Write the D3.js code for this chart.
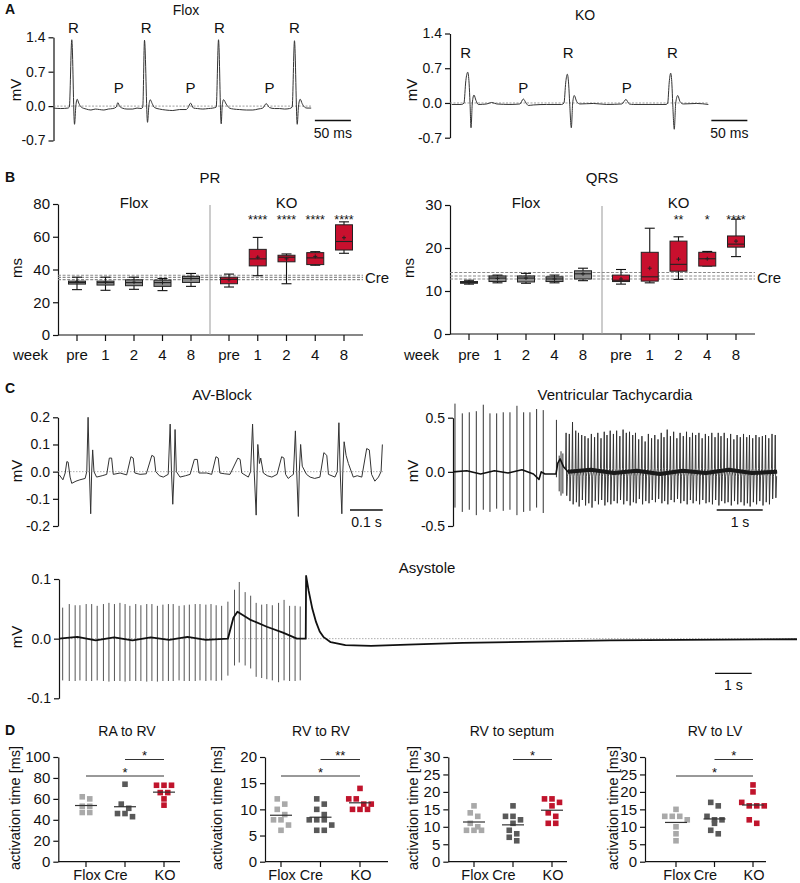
<!DOCTYPE html>
<html lang="en">
<head>
<meta charset="utf-8">
<title>ECG phenotype figure</title>
<script src="https://d3js.org/d3.v7.min.js"></script>
<style>
body { margin: 0; background: #fff; }
</style>
</head>
<body>
<script>
// ---------- DATA ----------
// A: surface ECG traces, [time ms, mV]
var aTicks = [-0.7, 0, 0.7, 1.4];
var floxEcg = [[0,-0.04],[10,-0.05],[20,-0.04],[22,-0.02],[25.4,1.35],[29.2,-0.37],[31,0],[32.9,0.14],[35.1,0.06],[38.5,-0.02],[45.4,-0.06],[52,-0.08],[58,-0.06],[63.9,-0.07],[70,-0.08],[76,-0.06],[82.4,-0.05],[87.1,-0.02],[89.3,0.07],[91.7,0.0],[95.4,-0.04],[102,-0.06],[110.1,-0.06],[116,-0.04],[121.8,-0.05],[124,-0.02],[126.4,1.34],[130.6,-0.33],[132.4,0],[134.3,0.13],[137.1,0.05],[140.3,-0.03],[147.2,-0.06],[156,-0.08],[165.7,-0.09],[175,-0.07],[184.3,-0.07],[187,-0.03],[190.3,0.06],[194.4,-0.04],[200,-0.05],[207.4,-0.06],[215,-0.05],[221.3,-0.04],[226,-0.02],[229.2,1.35],[232.9,-0.36],[234.3,0],[236.1,0.13],[239.9,0.04],[244.4,-0.04],[250,-0.06],[258.3,-0.07],[268,-0.08],[276.8,-0.08],[284,-0.06],[290.7,-0.04],[295.4,0.05],[300,-0.03],[307,-0.05],[313.9,-0.05],[321,-0.06],[327.8,-0.05],[331.5,-0.02],[334.7,1.33],[338.5,-0.37],[340.3,0],[342.6,0.14],[345.4,0.05],[348.6,-0.02],[352,-0.04],[357.9,-0.04]];
var koEcg = [[2.4,-0.03],[16.3,-0.03],[19.4,0],[22,0.45],[24.6,0.62],[26.5,0.4],[27.8,0],[29.2,-0.5],[31,0],[33.3,0.16],[36.1,0.05],[39.3,-0.03],[51,-0.02],[57.9,0.01],[64.9,-0.02],[83.3,-0.03],[97.2,-0.02],[101.8,0.08],[105.6,0.0],[108.8,-0.05],[115.7,-0.04],[134.3,-0.03],[155.1,-0.03],[158.3,0],[160.8,0.42],[162.9,0.58],[164.8,0.38],[166.2,0],[168.5,-0.5],[170.4,0],[172.6,0.15],[175.9,0.03],[180.6,-0.02],[199,-0.01],[217.6,-0.03],[238.5,-0.02],[244.4,0.07],[249,-0.02],[254.6,-0.03],[277.8,-0.03],[300,-0.03],[302.4,0],[304.5,0.42],[306.5,0.6],[308.2,0.38],[309.3,0],[311.5,-0.53],[313.5,0],[316.3,0.15],[319.4,0.03],[324,-0.02],[342.6,-0.01],[358.8,-0.03]];
var floxR = [27.8, 128.7, 230.6, 334.7];
var floxP = [90.7, 190.3, 300];
var koR = [21.8, 164, 308.8];
var koP = [101.8, 245.4];

// B: box statistics per week, [min, q1, median, q3, max, mean]
var weeks = ["pre", "1", "2", "4", "8"];
var prTicks = [0, 20, 40, 60, 80];
var prFlox = [[27.7,31.1,32.1,32.9,35.3,32.5],[27.3,30.5,32.0,32.9,35.3,32.3],[27.9,30.1,32.0,33.7,35.3,32.2],[27.1,29.7,32.0,33.5,34.5,32.0],[29.7,32.1,34.5,35.8,37.6,34.5]];
var prKO = [[29.3,31.3,34.0,35.3,37.2,33.8],[36.2,42.2,46.5,52.3,59.6,47.5],[31.3,44.7,47.5,48.7,49.5,46.5],[42.6,43.0,47.1,50.3,50.9,48.0],[49.9,51.9,57.1,67.3,69.1,59.4]];
var prCre = [33.8, 35.2, 36.5];
var prStars = ["", "****", "****", "****", "****"];
var qrsTicks = [0, 10, 20, 30];
var qrsFlox = [[11.6,11.8,12.0,12.2,12.5,12.0],[11.9,12.2,13.0,13.5,13.7,12.9],[11.8,12.1,13.0,13.5,14.1,13.0],[11.9,12.2,12.8,13.3,13.7,12.8],[12.4,12.8,14.0,14.7,15.3,14.0]];
var qrsKO = [[11.6,12.2,12.5,13.7,15.0,12.8],[11.9,12.3,13.3,19.0,24.6,15.3],[12.7,14.6,16.2,21.6,22.6,17.4],[15.8,15.8,17.5,19.0,19.2,17.5],[18.0,20.2,20.9,22.8,26.7,21.6]];
var qrsCre = [12.8, 13.5, 14.3];
var qrsStars = ["", "", "**", "*", "****"];

// C: arrhythmia traces
var avTicks = [-0.2, -0.1, 0, 0.1, 0.2];
var avEcg = [[0.004,-0.012],[0.015,-0.03],[0.022,-0.005],[0.027,0.037],[0.031,0.035],[0.037,-0.02],[0.042,-0.043],[0.055,-0.035],[0.067,-0.03],[0.083,-0.025],[0.088,0],[0.092,0.2],[0.096,0],[0.100,-0.155],[0.103,0],[0.106,0.08],[0.110,0],[0.118,-0.02],[0.135,-0.015],[0.149,-0.01],[0.157,0.05],[0.164,0.05],[0.169,-0.01],[0.19,-0.005],[0.21,-0.012],[0.223,0.055],[0.230,0.05],[0.235,-0.005],[0.251,-0.01],[0.27,-0.008],[0.287,0.06],[0.294,0.055],[0.299,0],[0.31,-0.015],[0.322,-0.02],[0.337,-0.01],[0.343,0.175],[0.347,0],[0.351,-0.12],[0.355,0],[0.358,0.155],[0.362,0],[0.373,-0.02],[0.39,-0.015],[0.404,-0.01],[0.417,0.045],[0.426,0.045],[0.431,-0.005],[0.455,-0.005],[0.47,-0.01],[0.483,0.055],[0.490,0.05],[0.495,-0.005],[0.51,-0.008],[0.526,-0.01],[0.550,0.05],[0.557,0.045],[0.562,-0.005],[0.582,-0.02],[0.589,0],[0.595,0.175],[0.600,0],[0.606,-0.16],[0.609,0],[0.611,0.1],[0.616,0.03],[0.62,0.05],[0.628,-0.005],[0.64,-0.015],[0.654,-0.02],[0.67,-0.01],[0.684,0.055],[0.691,0.05],[0.696,-0.01],[0.704,-0.025],[0.714,-0.015],[0.720,-0.01],[0.726,0.15],[0.730,0],[0.735,-0.165],[0.738,0],[0.742,0.1],[0.747,0.02],[0.76,-0.01],[0.771,-0.02],[0.785,-0.025],[0.801,-0.02],[0.813,0.07],[0.822,0.06],[0.827,-0.01],[0.847,-0.02],[0.854,0],[0.859,0.18],[0.863,0],[0.868,-0.155],[0.871,0],[0.875,0.11],[0.881,0.06],[0.888,0.03],[0.903,-0.02],[0.915,-0.015],[0.929,-0.02],[0.944,0.085],[0.952,0.08],[0.959,-0.01],[0.969,-0.035],[0.980,-0.02],[0.988,0],[0.992,0.1]];

var vtTicks = [-0.5, 0, 0.5];
var vtSinusT = [0.043,0.202,0.354,0.507,0.659,0.804,0.95,1.093,1.239,1.391,1.537,1.674,1.819,1.963];
var vtSinusTop = [0.63,0.54,0.55,0.56,0.62,0.54,0.54,0.55,0.55,0.61,0.55,0.55,0.58,0.57];
var vtSinusBot = [-0.33,-0.37,-0.35,-0.40,-0.35,-0.37,-0.34,-0.36,-0.35,-0.40,-0.37,-0.36,-0.33,-0.38];
var vtOnsetT = [2.25, 2.31, 2.35, 2.39];
var vtOnsetTop = [0.48, 0.15, 0.19, 0.17];
var vtOnsetBot = [-0.05, -0.18, -0.22, -0.20];
var vtFastT = [2.46,2.53,2.60,2.67,2.73,2.80,2.87,2.94,3.01,3.08,3.15,3.22,3.29,3.35,3.42,3.49,3.56,3.63,3.70,3.77,3.84,3.91,3.97,4.04,4.11,4.18,4.25,4.32,4.39,4.46,4.53,4.59,4.66,4.73,4.80,4.87,4.94,5.01,5.08,5.15,5.21,5.28,5.35,5.42,5.49,5.56,5.63,5.70,5.77,5.83,5.90,5.97,6.04,6.11,6.18,6.25,6.32,6.39,6.45,6.52,6.59,6.66,6.73,6.80,6.87,6.94,7.01];
var vtFastTop = [0.36,0.35,0.46,0.38,0.36,0.34,0.33,0.31,0.35,0.32,0.36,0.31,0.37,0.34,0.38,0.35,0.38,0.33,0.39,0.36,0.37,0.34,0.36,0.30,0.33,0.28,0.35,0.31,0.34,0.30,0.36,0.32,0.39,0.33,0.37,0.31,0.36,0.33,0.37,0.32,0.36,0.34,0.36,0.31,0.35,0.33,0.36,0.32,0.36,0.33,0.36,0.31,0.35,0.30,0.34,0.32,0.35,0.32,0.34,0.31,0.34,0.32,0.33,0.34,0.31,0.35,0.34];
var vtFastBot = [-0.22,-0.27,-0.30,-0.28,-0.32,-0.26,-0.31,-0.29,-0.33,-0.27,-0.30,-0.26,-0.31,-0.28,-0.30,-0.27,-0.29,-0.26,-0.30,-0.27,-0.31,-0.28,-0.29,-0.25,-0.30,-0.27,-0.29,-0.26,-0.28,-0.25,-0.29,-0.27,-0.30,-0.26,-0.28,-0.25,-0.29,-0.27,-0.30,-0.26,-0.29,-0.27,-0.30,-0.26,-0.29,-0.28,-0.30,-0.26,-0.31,-0.27,-0.29,-0.28,-0.31,-0.27,-0.30,-0.28,-0.31,-0.29,-0.32,-0.28,-0.30,-0.27,-0.31,-0.28,-0.30,-0.25,-0.24];
var vtBase = [[0,0],[0.3,0.01],[0.6,-0.02],[0.9,0.01],[1.2,-0.01],[1.5,0.02],[1.75,-0.02],[1.87,-0.07],[1.92,0.0],[2.0,-0.02],[2.24,-0.02],[2.28,0.08],[2.33,0.12],[2.4,0.05],[2.5,0.0],[3.0,0.02],[3.5,-0.01],[4.0,0.01],[4.5,-0.02],[5.0,0.01],[5.5,-0.01],[6.0,0.02],[6.5,-0.01],[7.05,0.0]];

var asyTicks = [-0.1, 0, 0.1];
var asyT = [0.10,0.28,0.44,0.57,0.74,0.89,1.04,1.21,1.36,1.51,1.66,1.80,1.93,2.09,2.23,2.39,2.53,2.68,2.83,2.98,3.11,3.27,3.41,3.55,3.71,3.84,4.00,4.14,4.28,4.43,4.60,4.78,4.91,5.07,5.22,5.37,5.52,5.66,5.81,5.98,6.13,6.28,6.43,6.57];
var asyTop = [0.052,0.058,0.056,0.056,0.058,0.058,0.055,0.058,0.060,0.058,0.060,0.058,0.055,0.058,0.056,0.058,0.058,0.055,0.057,0.058,0.058,0.055,0.056,0.057,0.058,0.058,0.057,0.058,0.056,0.055,0.062,0.082,0.095,0.078,0.072,0.060,0.057,0.058,0.056,0.060,0.065,0.055,0.055,0.054];
var asyBot = [-0.070,-0.071,-0.071,-0.070,-0.071,-0.071,-0.070,-0.071,-0.072,-0.071,-0.071,-0.072,-0.071,-0.071,-0.071,-0.072,-0.071,-0.072,-0.071,-0.071,-0.071,-0.070,-0.071,-0.071,-0.071,-0.070,-0.071,-0.070,-0.071,-0.070,-0.062,-0.045,-0.040,-0.045,-0.050,-0.064,-0.066,-0.068,-0.070,-0.073,-0.070,-0.071,-0.071,-0.070];
var asyBase = [[0,0],[0.5,0.003],[1,-0.003],[1.5,0.002],[2,-0.003],[2.5,0.002],[3,-0.002],[3.5,0.003],[4,-0.002],[4.6,0.0],[4.75,0.035],[4.86,0.045],[5.2,0.032],[5.66,0.02],[6.1,0.01],[6.48,0.0],[6.72,0.0],[6.73,0.105],[6.8,0.08],[6.9,0.05],[7.0,0.028],[7.1,0.012],[7.2,0.003],[7.4,-0.006],[7.8,-0.011],[8.5,-0.012],[9.5,-0.01],[11,-0.007],[13,-0.005],[15,-0.003],[17,-0.002],[20.1,-0.001]];

// D: activation times (ms), one array per genotype
var groups = ["Flox", "Cre", "KO"];
var raTicks = [0, 20, 40, 60, 80, 100];
var raFlox = [62, 60, 53, 53, 47, 47];
var raCre = [74, 55, 51, 46, 46, 43];
var raKO = [73, 73, 73, 66, 66, 60, 54];
var raSig = [[1, 2, "*"], [0, 2, "*"]];
var rvTicks = [0, 5, 10, 15, 20];
var rvFlox = [12, 11, 10, 9, 8, 8, 7, 6];
var rvCre = [12, 11, 10, 9, 8, 8, 8, 7, 6, 6];
var rvKO = [14, 12, 12, 11, 11, 10, 10, 10];
var rvSig = [[1, 2, "**"], [0, 2, "*"]];
var seTicks = [0, 5, 10, 15, 20, 25, 30];
var seFlox = [16, 14, 13, 11, 10, 9, 9, 9];
var seCre = [16, 13, 13, 12, 11, 9, 8, 7, 6];
var seKO = [18, 18, 17, 16, 14, 13, 11, 11];
var seSig = [[1, 2, "*"]];
var lvTicks = [0, 5, 10, 15, 20, 25, 30];
var lvFlox = [15, 13, 13, 13, 12, 10, 8, 6];
var lvCre = [17, 16, 13, 12, 12, 11, 9, 8];
var lvKO = [22, 20, 17, 16, 16, 16, 12, 11];
var lvSig = [[1, 2, "*"], [0, 2, "*"]];

// ---------- STYLE ----------
var FONT = "'Liberation Sans', Arial, Helvetica, sans-serif";
var INK = "#111";
var RED = "#c8102e";
var BOXGREY = "#8c8c8c";
var DOTCOL = ["#a9a9a9", "#595959", "#c0142c"];

var svg = d3.select("body").append("svg").attr("width", 800).attr("height", 883);

function addText(x, y, s, size, anchor, weight) {
  return svg.append("text").attr("x", x).attr("y", y).text(s)
    .attr("font-family", FONT).attr("font-size", size + "px")
    .attr("text-anchor", anchor || "middle").attr("font-weight", weight || "normal")
    .attr("fill", INK);
}
function addVText(x, y, s, size) {
  return svg.append("text").attr("transform", "translate(" + x + "," + y + ") rotate(-90)")
    .attr("text-anchor", "middle").attr("dy", "0.35em").text(s)
    .attr("font-family", FONT).attr("font-size", size + "px").attr("fill", INK);
}
function yAxis(x, scale, ticks, fmt, size) {
  var g = svg.append("g").attr("transform", "translate(" + x + ",0)")
    .call(d3.axisLeft(scale).tickValues(ticks).tickFormat(fmt).tickSize(5).tickSizeOuter(0).tickPadding(3));
  g.select(".domain").attr("stroke", INK).attr("stroke-width", 1.2);
  g.selectAll(".tick line").attr("stroke", INK).attr("stroke-width", 1.2);
  g.selectAll(".tick text").attr("font-family", FONT).attr("font-size", size + "px").attr("fill", INK);
  return g;
}
function fmt1(d) { return d.toFixed(1); }
function line(x1, y1, x2, y2, col, w, dash) {
  return svg.append("line").attr("x1", x1).attr("y1", y1).attr("x2", x2).attr("y2", y2)
    .attr("stroke", col).attr("stroke-width", w).attr("stroke-dasharray", dash || null);
}
function trace(data, xs, ys, col, w, curve) {
  svg.append("path").datum(data)
    .attr("d", d3.line().x(function(d) { return xs(d[0]); }).y(function(d) { return ys(d[1]); }).curve(curve || d3.curveLinear))
    .attr("fill", "none").attr("stroke", col).attr("stroke-width", w).attr("stroke-linejoin", "round");
}
function spikes(times, tops, bots, xs, ys, col, w) {
  var rows = times.map(function(t, i) { return [t, tops[i], bots[i]]; });
  svg.append("g").selectAll("line").data(rows).enter().append("line")
    .attr("x1", function(d) { return xs(d[0]); }).attr("x2", function(d) { return xs(d[0]); })
    .attr("y1", function(d) { return ys(d[1]); }).attr("y2", function(d) { return ys(d[2]); })
    .attr("stroke", col).attr("stroke-width", w);
}
// fast complexes: up-stroke to the peak, down-stroke to the trough
function zigzag(times, tops, bots, xs, ys, col, w) {
  var pts = [];
  times.forEach(function(t, i) {
    pts.push([t - 0.012, 0.03], [t, tops[i]], [t + 0.014, bots[i]], [t + 0.03, -0.04]);
  });
  trace(pts, xs, ys, col, w);
}

// ---------- PANEL A ----------
addText(5, 14, "A", 14, "start", "bold");
function ecgPanel(cfg, data, rT, pT) {
  var xs = d3.scaleLinear().domain([0, 360]).range([cfg.x0, cfg.x0 + 259.2]);
  var ys = d3.scaleLinear().domain([-0.7, 1.4]).range([cfg.yb, cfg.yt]);
  yAxis(cfg.x0, ys, aTicks, fmt1, 14);
  line(cfg.x0, ys(0), xs(358), ys(0), "#888", 0.8, "2,1.5");
  trace(data, xs, ys, "#333", 1, d3.curveMonotoneX);
  addText(cfg.titleX, cfg.titleY, cfg.title, 14);
  rT.forEach(function(t) { addText(xs(t), cfg.rY, "R", 15); });
  pT.forEach(function(t) { addText(xs(t), 93, "P", 15); });
  addVText(cfg.x0 - 38, 90, "mV", 15);
  line(xs(363), 120.5, xs(413), 120.5, INK, 1.3);
  addText(xs(388), 138, "50 ms", 14);
}
ecgPanel({x0: 53.5, yt: 37.3, yb: 140.5, title: "Flox", titleX: 186, titleY: 15, rY: 33}, floxEcg, floxR, floxP);
ecgPanel({x0: 450, yt: 33.5, yb: 137.7, title: "KO", titleX: 585, titleY: 20, rY: 58}, koEcg, koR, koP);

// ---------- PANEL B ----------
addText(5, 182, "B", 14, "start", "bold");
function boxPanel(cfg, ticks, flox, ko, cre, stars) {
  var ys = d3.scaleLinear().domain([0, ticks[ticks.length - 1]]).range([cfg.yb, cfg.yt]);
  var xf = d3.scalePoint().domain(weeks).range([cfg.x0 + 19, cfg.x0 + 133]);
  var xk = d3.scalePoint().domain(weeks).range([cfg.x0 + 171, cfg.x0 + 286]);
  yAxis(cfg.x0, ys, ticks, function(d) { return d; }, 15);
  line(cfg.x0, cfg.yb, cfg.x0 + 305, cfg.yb, INK, 1.2);
  line(cfg.x0 + 152, cfg.yt + 1, cfg.x0 + 152, cfg.yb, "#999", 1);
  weeks.forEach(function(w) {
    [xf(w), xk(w)].forEach(function(x) {
      line(x, cfg.yb, x, cfg.yb + 6, INK, 1.2);
      addText(x, 360, w, 15);
    });
  });
  addText(cfg.weekX, 360, "week", 15);
  cre.forEach(function(v) { line(cfg.x0, ys(v), cfg.x0 + 305, ys(v), "#8a8a8a", 1.1, "3,1.6"); });
  addText(cfg.x0 + 307, 283, "Cre", 15, "start");
  addText(cfg.x0 + 152, 183, cfg.title, 15);
  addText(cfg.x0 + 76, 208, "Flox", 15);
  addText(cfg.x0 + 228.5, 208, "KO", 15);
  addVText(cfg.x0 - 41, 268, "ms", 15);
  function boxes(stats, xs, fill) {
    var g = svg.append("g");
    var b = g.selectAll("g").data(stats).enter().append("g")
      .attr("transform", function(d, i) { return "translate(" + xs(weeks[i]) + ",0)"; });
    b.append("line").attr("y1", function(d) { return ys(d[0]); }).attr("y2", function(d) { return ys(d[4]); })
      .attr("stroke", INK).attr("stroke-width", 1.1);
    b.append("line").attr("x1", -5).attr("x2", 5).attr("y1", function(d) { return ys(d[0]); }).attr("y2", function(d) { return ys(d[0]); })
      .attr("stroke", INK).attr("stroke-width", 1.1);
    b.append("line").attr("x1", -5).attr("x2", 5).attr("y1", function(d) { return ys(d[4]); }).attr("y2", function(d) { return ys(d[4]); })
      .attr("stroke", INK).attr("stroke-width", 1.1);
    b.append("rect").attr("x", -8.5).attr("width", 17)
      .attr("y", function(d) { return ys(d[3]); }).attr("height", function(d) { return ys(d[1]) - ys(d[3]); })
      .attr("fill", fill).attr("stroke", "#222").attr("stroke-width", 1);
    b.append("line").attr("x1", -8.5).attr("x2", 8.5).attr("y1", function(d) { return ys(d[2]); }).attr("y2", function(d) { return ys(d[2]); })
      .attr("stroke", "#222").attr("stroke-width", 1.1);
    b.append("path").attr("d", function(d) { var y = ys(d[5]); return "M-2," + y + "H2M0," + (y - 2) + "V" + (y + 2); })
      .attr("stroke", "#222").attr("stroke-width", 1);
  }
  boxes(flox, xf, BOXGREY);
  boxes(ko, xk, RED);
  stars.forEach(function(s, i) { if (s) addText(xk(weeks[i]), 223.5, s, 12.5); });
}
boxPanel({x0: 58, yt: 204, yb: 335, title: "PR", weekX: 30.5}, prTicks, prFlox, prKO, prCre, prStars);
boxPanel({x0: 450, yt: 205, yb: 334, title: "QRS", weekX: 421.5}, qrsTicks, qrsFlox, qrsKO, qrsCre, qrsStars);

// ---------- PANEL C ----------
addText(5, 393, "C", 14, "start", "bold");
// AV block
var avX = d3.scaleLinear().domain([0, 1]).range([58, 385]);
var avY = d3.scaleLinear().domain([-0.2, 0.2]).range([526, 417.3]);
yAxis(58, avY, avTicks, fmt1, 14);
line(58, avY(0), 383, avY(0), "#999", 0.8, "1.5,1.5");
trace(avEcg, avX, avY, "#333", 1);
addText(222, 400, "AV-Block", 15);
addVText(17, 471, "mV", 15);
line(350, 510, 382.7, 510, INK, 1.3);
addText(366.5, 527, "0.1 s", 14);

// ventricular tachycardia
var vtX = d3.scaleLinear().domain([0, 7.07]).range([453, 778]);
var vtY = d3.scaleLinear().domain([-0.5, 0.5]).range([526, 417.7]);
yAxis(453, vtY, vtTicks, fmt1, 14);
spikes(vtSinusT, vtSinusTop, vtSinusBot, vtX, vtY, "#333", 1);
spikes(vtOnsetT, vtOnsetTop, vtOnsetBot, vtX, vtY, "#333", 1);
zigzag(vtFastT, vtFastTop, vtFastBot, vtX, vtY, "#2a2a2a", 0.9);
trace(vtBase, vtX, vtY, "#111", 1.6);
// the fast rhythm leaves a dark band round the baseline
trace(vtBase.filter(function(d) { return d[0] >= 2.45; }), vtX, vtY, "#1a1a1a", 4);
addText(615, 400, "Ventricular Tachycardia", 15);
addVText(413, 471, "mV", 15);
line(716.7, 510, 762.7, 510, INK, 1.3);
addText(740, 527, "1 s", 14);

// asystole
var asX = d3.scaleLinear().domain([0, 20.1]).range([59, 797]);
var asY = d3.scaleLinear().domain([-0.1, 0.1]).range([698.3, 579]);
yAxis(59, asY, asyTicks, fmt1, 14);
line(59, asY(0), 797, asY(0), "#999", 0.8, "1.5,1.5");
spikes(asyT, asyTop, asyBot, asX, asY, "#555", 1);
trace(asyBase, asX, asY, "#111", 1.8);
addText(427, 573, "Asystole", 15);
addVText(17, 637, "mV", 15);
line(715, 673.3, 751.7, 673.3, INK, 1.3);
addText(733.3, 690, "1 s", 14);

// ---------- PANEL D ----------
addText(5, 735, "D", 14, "start", "bold");
var labelShift = [1, -9, 1];
function dotPanel(cfg, ticks, sets, sig) {
  var ys = d3.scaleLinear().domain([0, ticks[ticks.length - 1]]).range([861.7, 757]);
  var xs = d3.scalePoint().domain(groups).range([cfg.c0, cfg.c1]);
  yAxis(cfg.x0, ys, ticks, function(d) { return d; }, 15);
  line(cfg.x0, 861.7, cfg.x1, 861.7, INK, 1.2);
  groups.forEach(function(gname, i) {
    line(xs(gname), 861.7, xs(gname), 867, INK, 1.2);
    addText(xs(gname) + labelShift[i], 880, gname, 14.5);
  });
  addText(cfg.titleX, 736, cfg.title, 14);
  addVText(cfg.labelX, 808, "activation time [ms]", 14.5);
  sets.forEach(function(vals, gi) {
    // squares that would overlap vertically are laid side by side
    var sorted = vals.slice().sort(function(a, b) { return b - a; });
    var bins = [];
    sorted.forEach(function(v) {
      var last = bins[bins.length - 1];
      if (last && ys(v) - ys(last[0]) < 5.5) last.push(v); else bins.push([v]);
    });
    var pts = [];
    bins.forEach(function(bin) {
      bin.forEach(function(v, j) { pts.push({v: v, dx: (j - (bin.length - 1) / 2) * 7.5}); });
    });
    var cx = xs(groups[gi]);
    svg.append("g").selectAll("rect").data(pts).enter().append("rect")
      .attr("x", function(d) { return cx + d.dx - 2.8; }).attr("y", function(d) { return ys(d.v) - 2.8; })
      .attr("width", 5.6).attr("height", 5.6).attr("fill", DOTCOL[gi]);
    var m = d3.mean(vals);
    line(cx - 11, ys(m), cx + 11, ys(m), "#333", 1.2);
  });
  sig.forEach(function(s, k) {
    var y = k === 0 ? 759.5 : 776;
    line(xs(groups[s[0]]), y, xs(groups[s[1]]), y, "#333", 1);
    addText((xs(groups[s[0]]) + xs(groups[s[1]])) / 2, y + 0.5, s[2], 13);
  });
}
dotPanel({x0: 58.3, x1: 180, c0: 86, c1: 164, title: "RA to RV", titleX: 127, labelX: 15}, raTicks, [raFlox, raCre, raKO], raSig);
dotPanel({x0: 265, x1: 388, c0: 281, c1: 360, title: "RV to RV", titleX: 321, labelX: 217}, rvTicks, [rvFlox, rvCre, rvKO], rvSig);
dotPanel({x0: 448.3, x1: 567, c0: 474, c1: 552, title: "RV to septum", titleX: 512, labelX: 413}, seTicks, [seFlox, seCre, seKO], seSig);
dotPanel({x0: 645, x1: 766, c0: 676, c1: 753, title: "RV to LV", titleX: 715, labelX: 613}, lvTicks, [lvFlox, lvCre, lvKO], lvSig);
</script>
</body>
</html>
